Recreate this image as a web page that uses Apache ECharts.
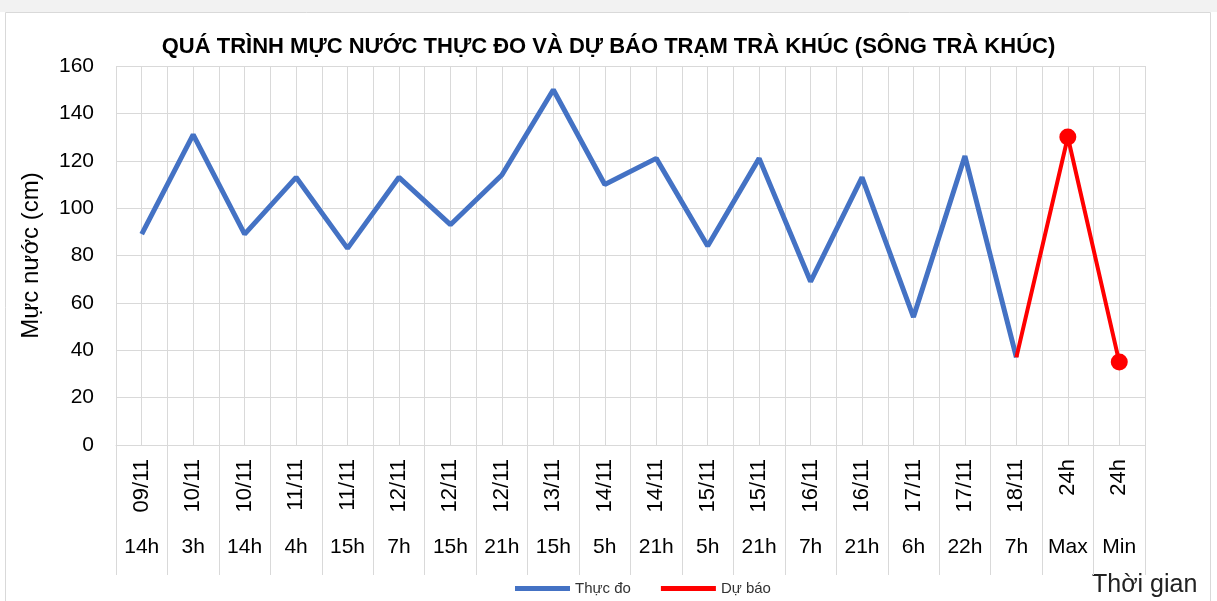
<!doctype html>
<html><head><meta charset="utf-8" />
<style>
  html,body,#app{margin:0;padding:0;width:1217px;height:601px;background:#ffffff}
</style>
<script src="https://cdn.jsdelivr.net/npm/echarts@6/dist/echarts.min.js"></script>
</head><body><div id="app"></div>
<script>
// categories: date line (rotated) + hour line
const dates = ['09/11','10/11','10/11','11/11','11/11','12/11','12/11','12/11','13/11','14/11','14/11','15/11','15/11','16/11','16/11','17/11','17/11','18/11','24h','24h'];
const hours = ['14h','3h','14h','4h','15h','7h','15h','21h','15h','5h','21h','5h','21h','7h','21h','6h','22h','7h','Max','Min'];
// measured water level (cm)
const observed = [89,131,89,113,83,113,93,114,150,110,121,84,121,69,113,54,122,37,null,null];
// forecast (starts from the last measured point)
const forecast = [null,null,null,null,null,null,null,null,null,null,null,null,null,null,null,null,null,37,130,35];
const yTicks = { min: 0, max: 160, interval: 20 };

const font = "'Liberation Sans Narrow','Liberation Sans',sans-serif";
const grid = '#d9d9d9';
const chart = echarts.init(document.getElementById('app'));

const fc = forecast.map((v, i) => (i === 17 ? { value: v, symbol: 'none' } : v));

chart.setOption({
  backgroundColor: '#ffffff',
  animation: false,
  textStyle: { fontFamily: font },
  title: {
    text: 'QUÁ TRÌNH MỰC NƯỚC THỰC ĐO VÀ DỰ BÁO TRẠM TRÀ KHÚC (SÔNG TRÀ KHÚC)',
    left: 'center', top: 31,
    textStyle: { fontFamily: font, fontSize: 22, fontWeight: 'bold', color: '#000' }
  },
  graphic: [
    { type: 'rect', shape: { x: 0, y: 0, width: 1217, height: 12 }, style: { fill: '#f2f2f2' }, silent: true },
    { type: 'rect', shape: { x: 5.5, y: 12.5, width: 1205, height: 600 }, style: { fill: 'none', stroke: grid, lineWidth: 1 }, silent: true },
    { type: 'text', left: 1092, top: 573, style: { text: 'Thời gian', font: '25px ' + font, fill: '#222' } }
  ],
  legend: {
    top: 576, left: 510, itemGap: 30, itemWidth: 55, itemHeight: 5,
    textStyle: { fontSize: 15, color: '#333' },
    data: [{ name: 'Thực đo', icon: 'rect' }, { name: 'Dự báo', icon: 'rect' }]
  },
  grid: { left: 116, right: 72, top: 66, bottom: 156 },
  xAxis: [
    {
      type: 'category', data: dates, boundaryGap: true,
      axisLine: { lineStyle: { color: grid } },
      axisTick: { show: true, interval: 0, length: 130, lineStyle: { color: grid } },
      axisLabel: { interval: 0, rotate: 90, margin: 14, fontSize: 22, color: '#000' },
      splitLine: { show: false }
    },
    {
      type: 'category', data: hours, position: 'bottom', gridIndex: 0,
      axisLine: { show: false }, axisTick: { show: false },
      axisLabel: { interval: 0, margin: 92, fontSize: 21, color: '#000' },
      splitLine: { show: false }
    },
    {
      type: 'value', min: 0, max: 40, interval: 1, show: true, position: 'top',
      axisLine: { show: false }, axisTick: { show: false }, axisLabel: { show: false },
      splitLine: { show: true, lineStyle: { color: grid } }
    }
  ],
  yAxis: {
    type: 'value', min: yTicks.min, max: yTicks.max, interval: yTicks.interval,
    name: 'Mực nước (cm)', nameLocation: 'middle', nameGap: 73, nameRotate: 90,
    nameTextStyle: { fontSize: 24, color: '#000' },
    axisLine: { show: false }, axisTick: { show: false },
    axisLabel: { fontSize: 21, color: '#000', margin: 22 },
    splitLine: { lineStyle: { color: grid } }
  },
  series: [
    {
      name: 'Thực đo', type: 'line', data: observed, xAxisIndex: 0,
      symbol: 'none', lineStyle: { color: '#4472C4', width: 5 }, itemStyle: { color: '#4472C4' }
    },
    {
      name: 'Dự báo', type: 'line', data: fc, xAxisIndex: 0,
      symbol: 'circle', symbolSize: 17,
      lineStyle: { color: '#FF0000', width: 4 }, itemStyle: { color: '#FF0000' }
    }
  ]
});
</script></body></html>
